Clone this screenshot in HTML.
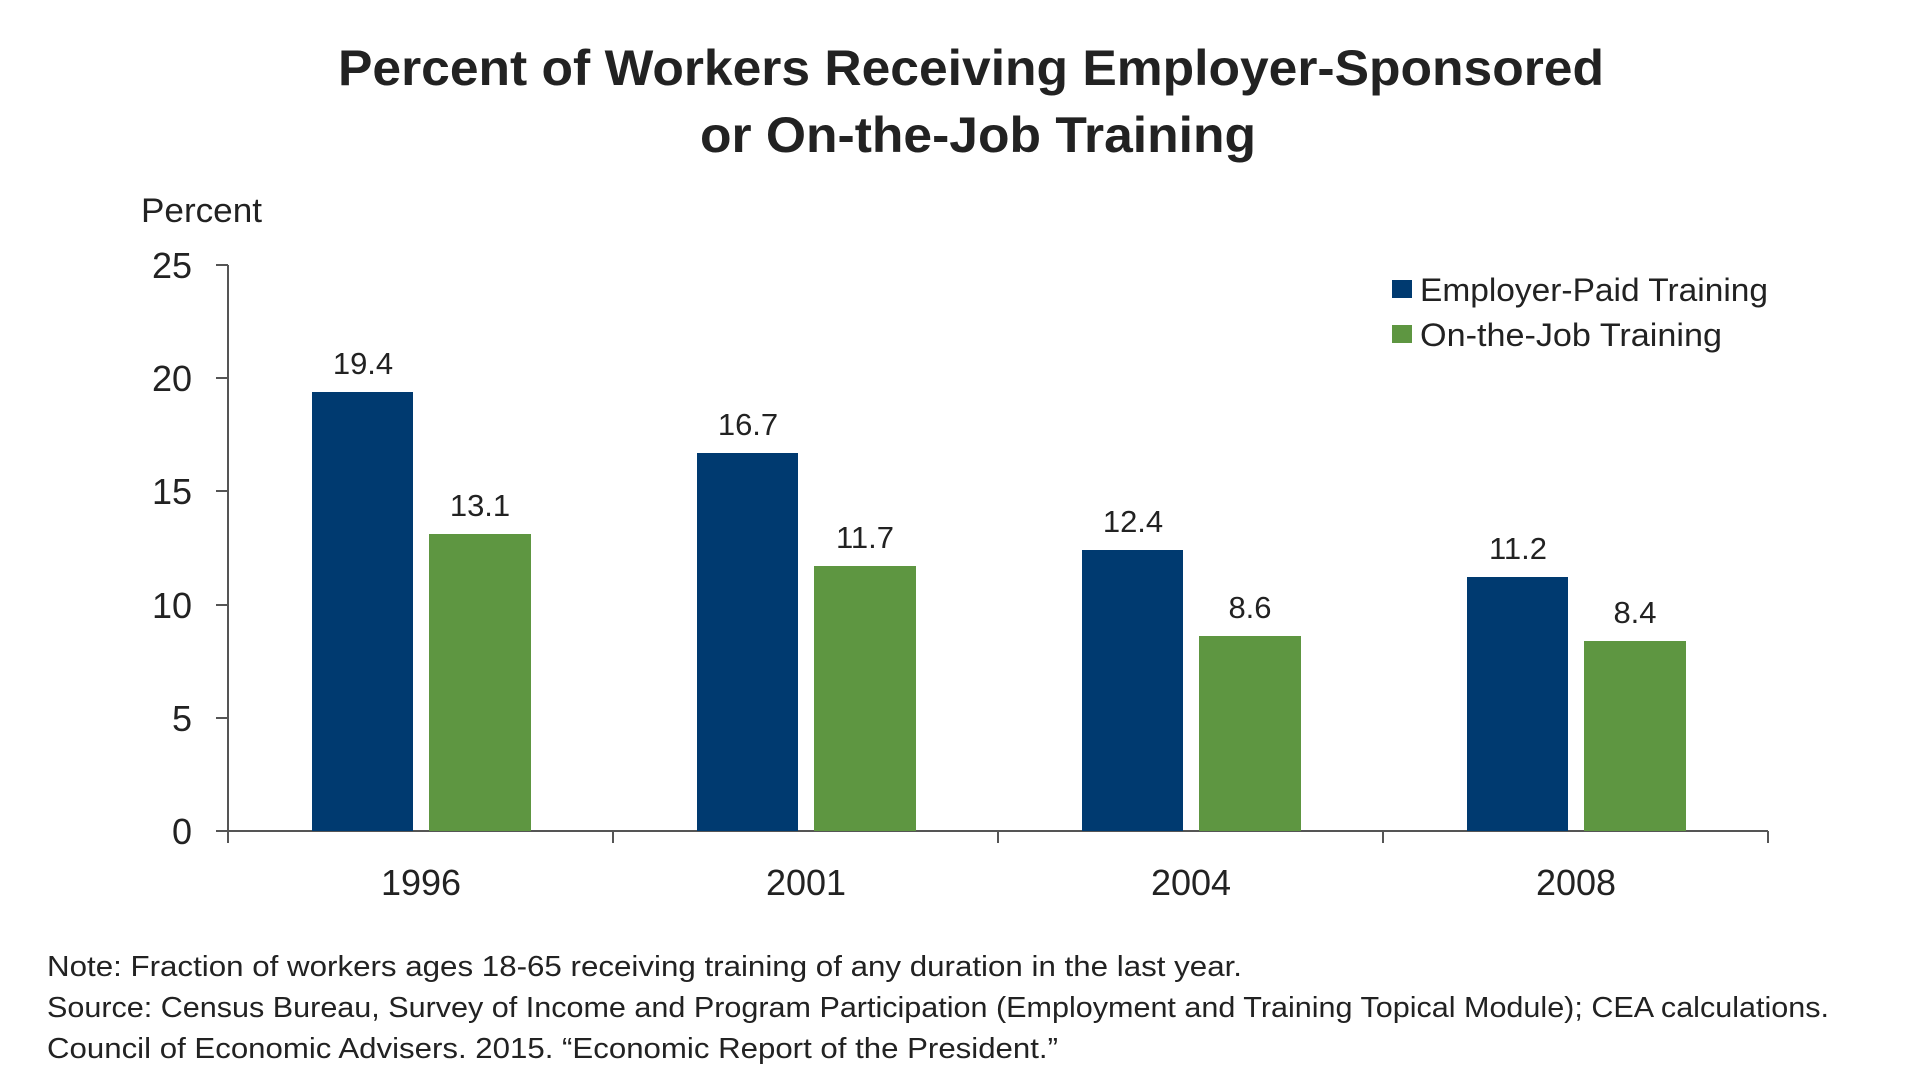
<!DOCTYPE html>
<html><head><meta charset="utf-8"><style>
html,body{margin:0;padding:0;background:#fff;}
svg{display:block;font-family:"Liberation Sans",sans-serif;}
</style></head><body>
<svg width="1920" height="1080" viewBox="0 0 1920 1080">
<g fill="#222">
<text x="971" y="85" text-anchor="middle" font-size="50" font-weight="bold" textLength="1266" lengthAdjust="spacingAndGlyphs">Percent of  Workers Receiving Employer-Sponsored</text>
<text x="978" y="152" text-anchor="middle" font-size="50" font-weight="bold" textLength="556" lengthAdjust="spacingAndGlyphs">or On-the-Job Training</text>
<text x="141" y="222" font-size="34" textLength="121" lengthAdjust="spacingAndGlyphs">Percent</text>
<g font-size="36" text-anchor="end">
<text x="192" y="278">25</text><text x="192" y="391">20</text><text x="192" y="504">15</text>
<text x="192" y="618">10</text><text x="192" y="731">5</text><text x="192" y="844">0</text>
</g>
</g>
<g stroke="#555" stroke-width="2" fill="none">
<path d="M228 265V843M216 265H228M216 378H228M216 491H228M216 605H228M216 718H228M216 831H1768"/>
<path d="M228 831V843M613 831V843M998 831V843M1383 831V843M1768 831V843"/>
</g>
<g fill="#003a70">
<rect x="312" y="392" width="101" height="439"/>
<rect x="697" y="453" width="101" height="378"/>
<rect x="1082" y="550" width="101" height="281"/>
<rect x="1467" y="577" width="101" height="254"/>
</g>
<g fill="#5e9641">
<rect x="429" y="534" width="102" height="297"/>
<rect x="814" y="566" width="102" height="265"/>
<rect x="1199" y="636" width="102" height="195"/>
<rect x="1584" y="641" width="102" height="190"/>
</g>
<g fill="#222" font-size="31" text-anchor="middle">
<text x="363" y="374">19.4</text><text x="480" y="516">13.1</text>
<text x="748" y="435">16.7</text><text x="865" y="548">11.7</text>
<text x="1133" y="532">12.4</text><text x="1250" y="618">8.6</text>
<text x="1518" y="559">11.2</text><text x="1635" y="623">8.4</text>
</g>
<g fill="#222" font-size="36" text-anchor="middle">
<text x="421" y="895">1996</text><text x="806" y="895">2001</text>
<text x="1191" y="895">2004</text><text x="1576" y="895">2008</text>
</g>
<rect x="1392" y="280" width="20" height="18" fill="#003a70"/>
<rect x="1392" y="325" width="20" height="18" fill="#5e9641"/>
<g fill="#222" font-size="32">
<text x="1420" y="301" textLength="348" lengthAdjust="spacingAndGlyphs">Employer-Paid Training</text>
<text x="1420" y="346" textLength="302" lengthAdjust="spacingAndGlyphs">On-the-Job Training</text>
</g>
<g fill="#222" font-size="29">
<text x="47" y="976" textLength="1195" lengthAdjust="spacingAndGlyphs">Note: Fraction of workers ages 18-65 receiving training of any duration in the last year.</text>
<text x="47" y="1017" textLength="1782" lengthAdjust="spacingAndGlyphs">Source: Census Bureau, Survey of Income and Program Participation (Employment and Training Topical Module); CEA calculations.</text>
<text x="47" y="1058" textLength="1011" lengthAdjust="spacingAndGlyphs">Council of Economic Advisers. 2015. “Economic Report of the President.”</text>
</g>
</svg>
</body></html>
